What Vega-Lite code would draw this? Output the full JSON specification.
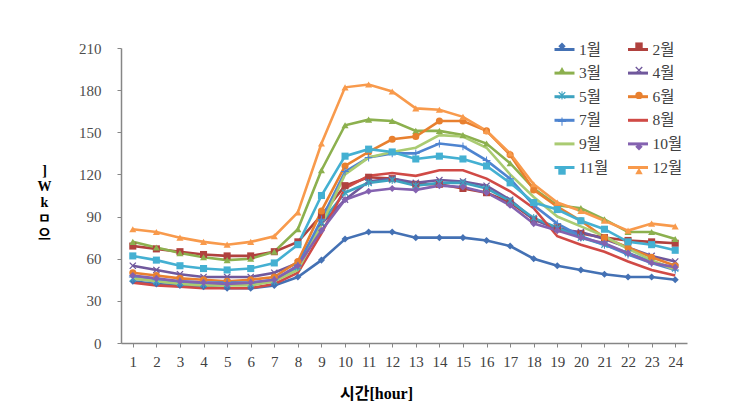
{
  "$schema": "https://vega.github.io/schema/vega-lite/v6.json",
  "width": 566,
  "height": 295,
  "autosize": {"type": "none"},
  "padding": {"left": 121, "top": 48, "right": 55, "bottom": 70},
  "background": "white",
  "config": {"view": {"stroke": null}},
  "data": {"values": [
    {"h":1,"mo":1,"v":44},{"h":2,"mo":1,"v":42},{"h":3,"mo":1,"v":41},{"h":4,"mo":1,"v":40},{"h":5,"mo":1,"v":39},{"h":6,"mo":1,"v":39},{"h":7,"mo":1,"v":41},{"h":8,"mo":1,"v":47},{"h":9,"mo":1,"v":59},{"h":10,"mo":1,"v":74},{"h":11,"mo":1,"v":79},{"h":12,"mo":1,"v":79},{"h":13,"mo":1,"v":75},{"h":14,"mo":1,"v":75},{"h":15,"mo":1,"v":75},{"h":16,"mo":1,"v":73},{"h":17,"mo":1,"v":69},{"h":18,"mo":1,"v":60},{"h":19,"mo":1,"v":55},{"h":20,"mo":1,"v":52},{"h":21,"mo":1,"v":49},{"h":22,"mo":1,"v":47},{"h":23,"mo":1,"v":47},{"h":24,"mo":1,"v":45},
    {"h":1,"mo":2,"v":69},{"h":2,"mo":2,"v":67},{"h":3,"mo":2,"v":65},{"h":4,"mo":2,"v":63},{"h":5,"mo":2,"v":62},{"h":6,"mo":2,"v":62},{"h":7,"mo":2,"v":65},{"h":8,"mo":2,"v":72},{"h":9,"mo":2,"v":91},{"h":10,"mo":2,"v":112},{"h":11,"mo":2,"v":118},{"h":12,"mo":2,"v":117},{"h":13,"mo":2,"v":113},{"h":14,"mo":2,"v":113},{"h":15,"mo":2,"v":110},{"h":16,"mo":2,"v":107},{"h":17,"mo":2,"v":100},{"h":18,"mo":2,"v":88},{"h":19,"mo":2,"v":82},{"h":20,"mo":2,"v":78},{"h":21,"mo":2,"v":75},{"h":22,"mo":2,"v":73},{"h":23,"mo":2,"v":72},{"h":24,"mo":2,"v":71},
    {"h":1,"mo":3,"v":72},{"h":2,"mo":3,"v":68},{"h":3,"mo":3,"v":64},{"h":4,"mo":3,"v":61},{"h":5,"mo":3,"v":59},{"h":6,"mo":3,"v":60},{"h":7,"mo":3,"v":65},{"h":8,"mo":3,"v":81},{"h":9,"mo":3,"v":123},{"h":10,"mo":3,"v":155},{"h":11,"mo":3,"v":159},{"h":12,"mo":3,"v":158},{"h":13,"mo":3,"v":151},{"h":14,"mo":3,"v":151},{"h":15,"mo":3,"v":148},{"h":16,"mo":3,"v":142},{"h":17,"mo":3,"v":128},{"h":18,"mo":3,"v":110},{"h":19,"mo":3,"v":98},{"h":20,"mo":3,"v":96},{"h":21,"mo":3,"v":88},{"h":22,"mo":3,"v":79},{"h":23,"mo":3,"v":79},{"h":24,"mo":3,"v":74},
    {"h":1,"mo":4,"v":55},{"h":2,"mo":4,"v":52},{"h":3,"mo":4,"v":49},{"h":4,"mo":4,"v":47},{"h":5,"mo":4,"v":47},{"h":6,"mo":4,"v":47},{"h":7,"mo":4,"v":50},{"h":8,"mo":4,"v":57},{"h":9,"mo":4,"v":85},{"h":10,"mo":4,"v":102},{"h":11,"mo":4,"v":115},{"h":12,"mo":4,"v":117},{"h":13,"mo":4,"v":114},{"h":14,"mo":4,"v":116},{"h":15,"mo":4,"v":115},{"h":16,"mo":4,"v":112},{"h":17,"mo":4,"v":102},{"h":18,"mo":4,"v":88},{"h":19,"mo":4,"v":81},{"h":20,"mo":4,"v":79},{"h":21,"mo":4,"v":74},{"h":22,"mo":4,"v":68},{"h":23,"mo":4,"v":62},{"h":24,"mo":4,"v":58},
    {"h":1,"mo":5,"v":46},{"h":2,"mo":5,"v":44},{"h":3,"mo":5,"v":43},{"h":4,"mo":5,"v":42},{"h":5,"mo":5,"v":42},{"h":6,"mo":5,"v":42},{"h":7,"mo":5,"v":44},{"h":8,"mo":5,"v":54},{"h":9,"mo":5,"v":86},{"h":10,"mo":5,"v":107},{"h":11,"mo":5,"v":114},{"h":12,"mo":5,"v":116},{"h":13,"mo":5,"v":112},{"h":14,"mo":5,"v":114},{"h":15,"mo":5,"v":114},{"h":16,"mo":5,"v":110},{"h":17,"mo":5,"v":101},{"h":18,"mo":5,"v":89},{"h":19,"mo":5,"v":82},{"h":20,"mo":5,"v":75},{"h":21,"mo":5,"v":70},{"h":22,"mo":5,"v":64},{"h":23,"mo":5,"v":58},{"h":24,"mo":5,"v":53},
    {"h":1,"mo":6,"v":50},{"h":2,"mo":6,"v":48},{"h":3,"mo":6,"v":46},{"h":4,"mo":6,"v":45},{"h":5,"mo":6,"v":44},{"h":6,"mo":6,"v":45},{"h":7,"mo":6,"v":47},{"h":8,"mo":6,"v":58},{"h":9,"mo":6,"v":94},{"h":10,"mo":6,"v":126},{"h":11,"mo":6,"v":136},{"h":12,"mo":6,"v":145},{"h":13,"mo":6,"v":147},{"h":14,"mo":6,"v":158},{"h":15,"mo":6,"v":158},{"h":16,"mo":6,"v":151},{"h":17,"mo":6,"v":134},{"h":18,"mo":6,"v":109},{"h":19,"mo":6,"v":97},{"h":20,"mo":6,"v":87},{"h":21,"mo":6,"v":75},{"h":22,"mo":6,"v":68},{"h":23,"mo":6,"v":61},{"h":24,"mo":6,"v":55},
    {"h":1,"mo":7,"v":47},{"h":2,"mo":7,"v":45},{"h":3,"mo":7,"v":44},{"h":4,"mo":7,"v":43},{"h":5,"mo":7,"v":43},{"h":6,"mo":7,"v":43},{"h":7,"mo":7,"v":45},{"h":8,"mo":7,"v":55},{"h":9,"mo":7,"v":88},{"h":10,"mo":7,"v":122},{"h":11,"mo":7,"v":132},{"h":12,"mo":7,"v":135},{"h":13,"mo":7,"v":135},{"h":14,"mo":7,"v":142},{"h":15,"mo":7,"v":140},{"h":16,"mo":7,"v":130},{"h":17,"mo":7,"v":117},{"h":18,"mo":7,"v":98},{"h":19,"mo":7,"v":85},{"h":20,"mo":7,"v":76},{"h":21,"mo":7,"v":70},{"h":22,"mo":7,"v":63},{"h":23,"mo":7,"v":57},{"h":24,"mo":7,"v":52},
    {"h":1,"mo":8,"v":43},{"h":2,"mo":8,"v":41},{"h":3,"mo":8,"v":40},{"h":4,"mo":8,"v":39},{"h":5,"mo":8,"v":39},{"h":6,"mo":8,"v":39},{"h":7,"mo":8,"v":42},{"h":8,"mo":8,"v":50},{"h":9,"mo":8,"v":78},{"h":10,"mo":8,"v":110},{"h":11,"mo":8,"v":119},{"h":12,"mo":8,"v":121},{"h":13,"mo":8,"v":119},{"h":14,"mo":8,"v":123},{"h":15,"mo":8,"v":123},{"h":16,"mo":8,"v":117},{"h":17,"mo":8,"v":108},{"h":18,"mo":8,"v":96},{"h":19,"mo":8,"v":76},{"h":20,"mo":8,"v":70},{"h":21,"mo":8,"v":65},{"h":22,"mo":8,"v":58},{"h":23,"mo":8,"v":52},{"h":24,"mo":8,"v":48},
    {"h":1,"mo":9,"v":46},{"h":2,"mo":9,"v":44},{"h":3,"mo":9,"v":42},{"h":4,"mo":9,"v":41},{"h":5,"mo":9,"v":41},{"h":6,"mo":9,"v":41},{"h":7,"mo":9,"v":44},{"h":8,"mo":9,"v":52},{"h":9,"mo":9,"v":84},{"h":10,"mo":9,"v":120},{"h":11,"mo":9,"v":132},{"h":12,"mo":9,"v":136},{"h":13,"mo":9,"v":139},{"h":14,"mo":9,"v":148},{"h":15,"mo":9,"v":147},{"h":16,"mo":9,"v":139},{"h":17,"mo":9,"v":120},{"h":18,"mo":9,"v":104},{"h":19,"mo":9,"v":90},{"h":20,"mo":9,"v":83},{"h":21,"mo":9,"v":76},{"h":22,"mo":9,"v":67},{"h":23,"mo":9,"v":59},{"h":24,"mo":9,"v":52},
    {"h":1,"mo":10,"v":48},{"h":2,"mo":10,"v":46},{"h":3,"mo":10,"v":44},{"h":4,"mo":10,"v":43},{"h":5,"mo":10,"v":42},{"h":6,"mo":10,"v":43},{"h":7,"mo":10,"v":45},{"h":8,"mo":10,"v":55},{"h":9,"mo":10,"v":80},{"h":10,"mo":10,"v":102},{"h":11,"mo":10,"v":108},{"h":12,"mo":10,"v":110},{"h":13,"mo":10,"v":109},{"h":14,"mo":10,"v":112},{"h":15,"mo":10,"v":111},{"h":16,"mo":10,"v":107},{"h":17,"mo":10,"v":98},{"h":18,"mo":10,"v":85},{"h":19,"mo":10,"v":80},{"h":20,"mo":10,"v":75},{"h":21,"mo":10,"v":71},{"h":22,"mo":10,"v":64},{"h":23,"mo":10,"v":57},{"h":24,"mo":10,"v":54},
    {"h":1,"mo":11,"v":62},{"h":2,"mo":11,"v":59},{"h":3,"mo":11,"v":55},{"h":4,"mo":11,"v":53},{"h":5,"mo":11,"v":52},{"h":6,"mo":11,"v":53},{"h":7,"mo":11,"v":57},{"h":8,"mo":11,"v":70},{"h":9,"mo":11,"v":105},{"h":10,"mo":11,"v":133},{"h":11,"mo":11,"v":138},{"h":12,"mo":11,"v":136},{"h":13,"mo":11,"v":131},{"h":14,"mo":11,"v":133},{"h":15,"mo":11,"v":131},{"h":16,"mo":11,"v":126},{"h":17,"mo":11,"v":114},{"h":18,"mo":11,"v":100},{"h":19,"mo":11,"v":95},{"h":20,"mo":11,"v":87},{"h":21,"mo":11,"v":81},{"h":22,"mo":11,"v":72},{"h":23,"mo":11,"v":70},{"h":24,"mo":11,"v":66},
    {"h":1,"mo":12,"v":81},{"h":2,"mo":12,"v":79},{"h":3,"mo":12,"v":75},{"h":4,"mo":12,"v":72},{"h":5,"mo":12,"v":70},{"h":6,"mo":12,"v":72},{"h":7,"mo":12,"v":76},{"h":8,"mo":12,"v":93},{"h":9,"mo":12,"v":142},{"h":10,"mo":12,"v":182},{"h":11,"mo":12,"v":184},{"h":12,"mo":12,"v":179},{"h":13,"mo":12,"v":167},{"h":14,"mo":12,"v":166},{"h":15,"mo":12,"v":161},{"h":16,"mo":12,"v":151},{"h":17,"mo":12,"v":135},{"h":18,"mo":12,"v":113},{"h":19,"mo":12,"v":100},{"h":20,"mo":12,"v":94},{"h":21,"mo":12,"v":87},{"h":22,"mo":12,"v":80},{"h":23,"mo":12,"v":85},{"h":24,"mo":12,"v":83}
  ]},
  "encoding": {
    "x": {
      "field": "h", "type": "ordinal",
      "scale": {"type": "point", "padding": 0.5},
      "axis": {
        "title": "시간[hour]", "labelAngle": 0,
        "labelFont": "Liberation Serif, Noto Sans CJK KR", "labelFontSize": 15, "labelColor": "#404040",
        "labelPadding": 7, "tickSize": 4, "tickColor": "#868686", "domainColor": "#868686", "domainWidth": 1.5,
        "titleFont": "Liberation Serif, Noto Sans CJK KR", "titleFontSize": 16, "titleFontWeight": "bold", "titleColor": "#000000",
        "titleX": 255, "titleY": 50, "titleBaseline": "middle", "titleAlign": "center",
        "grid": false
      }
    },
    "y": {
      "field": "v", "type": "quantitative",
      "scale": {"domain": [0, 210], "nice": false, "zero": true},
      "axis": {
        "values": [0, 30, 60, 90, 120, 150, 180, 210],
        "title": ["]", "W", "k", "ㅁ", "으"], "titleAngle": 0,
        "titleX": -77, "titleY": 115, "titleBaseline": "top", "titleAlign": "center",
        "titleFont": "Liberation Serif, Noto Sans CJK KR", "titleFontSize": 14, "titleFontWeight": "bold", "titleLineHeight": 16, "titleColor": "#000000",
        "labelFont": "Liberation Serif", "labelFontSize": 15, "labelColor": "#4d4d4d",
        "labelPadding": 16, "tickSize": 4, "tickColor": "#868686", "domainColor": "#868686", "domainWidth": 1.5,
        "grid": false
      }
    }
  },
  "layer": [
    {
      "mark": {"type": "line", "strokeWidth": 2.6},
      "encoding": {
        "stroke": {
          "field": "mo", "type": "nominal",
          "scale": {"range": ["#4471B4", "#B0413E", "#8CB04E", "#70589C", "#3DA3C0", "#E8802F", "#4E84D0", "#D04A46", "#AACB72", "#8462B0", "#44B0D2", "#F89A4C"]},
          "legend": {
            "orient": "none", "legendX": 432, "legendY": -10, "columns": 2, "direction": "horizontal", "title": null, "padding": 0,
            "symbolType": "stroke", "symbolSize": 400, "symbolStrokeWidth": 3,
            "labelExpr": "datum.label + '월'", "labelFont": "Liberation Serif, Noto Sans CJK KR", "labelFontSize": 15.5, "labelColor": "#404040",
            "labelOffset": 3, "columnPadding": 12.5, "rowPadding": 3.6
          }
        }
      }
    },
    {
      "mark": {"type": "point", "filled": true, "opacity": 1, "size": 50},
      "encoding": {
        "color": {
          "field": "mo", "type": "nominal",
          "scale": {"domain": [1,2,3,4,5,6,7,8,9,10,11,12], "range": ["#4471B4", "#B0413E", "#8CB04E", "#70589C", "#3DA3C0", "#E8802F", "#4E84D0", "#D04A46", "#AACB72", "#8462B0", "#44B0D2", "#F89A4C"]},
          "legend": {
            "orient": "none", "legendX": 437, "legendY": -6, "columns": 2, "direction": "horizontal", "title": null, "padding": 0,
            "symbolSize": 55, "symbolStrokeWidth": 0,
            "labelExpr": "''", "labelFontSize": 1, "labelOpacity": 0,
            "labelOffset": 0, "columnPadding": 68, "rowPadding": 16.2
          }
        },
        "shape": {
          "field": "mo", "type": "nominal",
          "scale": {"domain": [1,2,3,4,5,6,7,8,9,10,11,12], "range": [
            "diamond", "square", "triangle-up",
            "M-1,-0.75L-0.75,-1L0,-0.25L0.75,-1L1,-0.75L0.25,0L1,0.75L0.75,1L0,0.25L-0.75,1L-1,0.75L-0.25,0Z",
            "M-1,-0.75L-0.75,-1L0,-0.25L0.75,-1L1,-0.75L0.25,0L1,0.75L0.75,1L0,0.25L-0.75,1L-1,0.75L-0.25,0Z M-0.14,-1.1L0.14,-1.1L0.14,1.1L-0.14,1.1Z",
            "circle",
            "M-1.1,-0.14L1.1,-0.14L1.1,0.14L-1.1,0.14Z M-0.14,-1.1L0.14,-1.1L0.14,1.1L-0.14,1.1Z",
            "M0,0", "M0,0",
            "diamond", "square", "triangle-up"]},
          "legend": {
            "orient": "none", "legendX": 437, "legendY": -6, "columns": 2, "direction": "horizontal", "title": null, "padding": 0,
            "symbolSize": 55, "symbolStrokeWidth": 0,
            "labelExpr": "''", "labelFontSize": 1, "labelOpacity": 0,
            "labelOffset": 0, "columnPadding": 68, "rowPadding": 16.2
          }
        }
      }
    }
  ]
}
